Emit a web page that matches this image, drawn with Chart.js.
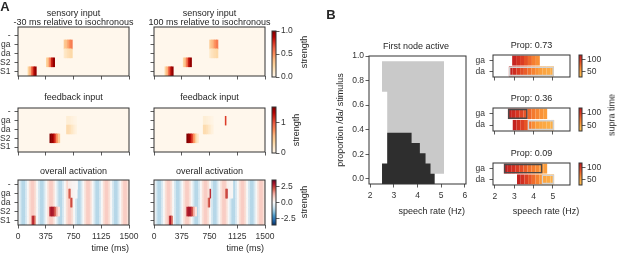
<!DOCTYPE html>
<html>
<head>
<meta charset="utf-8">
<script src="https://cdn.jsdelivr.net/npm/chart.js@4.4.1/dist/chart.umd.min.js"></script>
<style>
  body { margin: 0; width: 617px; height: 255px; position: relative; overflow: hidden; background: #fff;
         font-family: "Liberation Sans", Arial, sans-serif; color: #262626; }
  canvas { position: absolute; }
  .lbl { position: absolute; font-size: 9px; line-height: 1; white-space: nowrap; transform: translate(-50%, -50%); }
  .end { transform: translate(-100%, -50%); }
  .rot { transform: translate(-50%, -50%) rotate(-90deg); }
  .panel { font-weight: bold; font-size: 13px; }
</style>
</head>
<body>
<script>
// ---------- panel A data ----------
const rowNames = ['S1', 'S2', 'da', 'ga', '-'];
const timeTicks = [0, 375, 750, 1125, 1500];

// background oscillation of the overall activation, one value per 25 ms
const oscStepMs = 25;
const oscillation = [
  0.0, -0.6, -1.0, -1.0, -0.6, 0.0, 0.6, 0.9, 0.9, 0.6,
  0.0, -0.6, -1.0, -1.0, -0.6, 0.0, 0.6, 0.9, 0.9, 0.6,
  0.0, -0.6, -1.0, -1.0, -0.6, 0.0, 0.6, 0.9, 0.9, 0.6,
  0.0, -0.6, -1.0, -1.0, -0.6, 0.0, 0.6, 0.9, 0.9, 0.6,
  0.0, -0.6, -1.0, -1.0, -0.6, 0.0, 0.6, 0.9, 0.9, 0.6,
  0.0, -0.6, -1.0, -1.0, -0.6, 0.0, 0.6, 0.9, 0.9, 0.6
];

// [row, onset (ms), cell width (ms), strength per cell]
const sensoryEarly = [
  ['S1', 135, 22.5, [0.25, 0.4, 0.6, 0.8, 0.95]],
  ['S2', 383, 22.5, [0.25, 0.4, 0.6, 0.8, 0.95]],
  ['ga', 622, 22.5, [0.3, 0.35, 0.42, 0.5, 0.55]],
  ['da', 622, 22.5, [0.12, 0.15, 0.18, 0.2, 0.22]]
];
const sensoryLate = [
  ['S1', 148, 22.5, [0.25, 0.4, 0.6, 0.8, 0.95]],
  ['S2', 395, 22.5, [0.25, 0.4, 0.6, 0.8, 0.95]],
  ['ga', 752, 22.5, [0.3, 0.35, 0.42, 0.5, 0.55]],
  ['da', 752, 22.5, [0.12, 0.15, 0.18, 0.2, 0.22]]
];
const feedbackEarly = [
  ['S2', 430, 22.5, [1.5, 1.45, 1.3, 1.05, 0.75, 0.45]],
  ['ga', 655, 22.5, [0.12, 0.12, 0.1, 0.08, 0.06, 0.04]],
  ['da', 655, 22.5, [0.3, 0.3, 0.26, 0.2, 0.14, 0.08]]
];
const feedbackLate = [
  ['S2', 442, 22.5, [1.5, 1.45, 1.3, 1.05, 0.75, 0.45, 0.2]],
  ['ga', 665, 22.5, [0.12, 0.12, 0.1, 0.08, 0.06, 0.04]],
  ['da', 665, 22.5, [0.3, 0.3, 0.26, 0.2, 0.14, 0.08]],
  ['ga', 962, 12, [1.1]]
];
const activationEarly = [
  ['-', 680, 25, [0.3, 0.2, 0.1, 0.1, 0.0]],
  ['ga', 700, 25, [0.3, 0.2, 0.1, 0.0]],
  ['S1', 188, 15, [2.4, 2.8, 2.0]],
  ['S2', 428, 22.5, [2.7, 2.9, 2.7, 2.0, 1.3, 0.5]],
  ['ga', 683, 12, [1.8, 2.2]],
  ['da', 707, 12, [1.9, 2.3]]
];
const activationLate = [
  ['-', 990, 25, [0.2, 0.1, 0.05]],
  ['ga', 990, 25, [0.2, 0.1, 0.05]],
  ['S1', 205, 15, [2.5, 2.8, 2.0]],
  ['S2', 442, 22.5, [2.7, 2.9, 2.8, 2.2, 1.4, 0.5]],
  ['da', 730, 12, [1.9, 2.3]],
  ['ga', 755, 12, [2.6]],
  ['ga', 965, 14, [2.0, 2.4]]
];

const sensoryRange = [0, 1];
const sensoryTicks = [0, 0.5, 1.0];
const feedbackRange = [0, 1.52];
const feedbackTicks = [0, 1];
const activationRange = [-3.5, 3.5];
const activationTicks = [-2.5, 0, 2.5];

// ---------- panel B data ----------
const rateTicks = [2, 3, 4, 5, 6];
const propTicks = [0, 0.2, 0.4, 0.6, 0.8, 1.0];
// black area: top edge per speech-rate step (step starts at darkRate[i], ends at darkEnd)
const darkRate = [2.5, 2.72, 3.75, 4.1, 4.34, 4.55];
const darkTop = [0.125, 0.375, 0.292, 0.208, 0.125, 0.042];
const darkEnd = 4.73;
// grey area: bottom edge per speech-rate step, top edge at lightTop
const lightRate = [2.5, 2.72, 4.73];
const lightBottom = [0.708, -0.042, 0.042];
const lightEnd = 5.12;
const lightTop = 0.958;
const propMin = -0.042;

const propValues = [0.73, 0.36, 0.09];
const syllables = ['da', 'ga'];   // bottom to top
const supraRateTicks = [2, 3, 4, 5];
// [from Hz, to Hz, supra time per cell]
const supraGa = [
  [2.89, 4.32, [116, 108, 100, 90, 80, 70, 62]],
  [2.67, 4.70, [118, 112, 104, 96, 88, 80, 72, 66, 60, 55]],
  [2.46, 4.70, [120, 114, 108, 100, 92, 84, 76, 70, 64, 58, 54]]
];
const supraDa = [
  [2.72, 5.05, [118, 110, 100, 92, 84, 76, 68, 60, 54, 50, 48, 46]],
  [2.92, 5.06, [118, 108, 98, 88, 74, 62, 54, 50, 48, 46, 45]],
  [3.14, 5.06, [118, 108, 98, 88, 78, 68, 58, 50, 47, 45]]
];
const darkSpanGa = [null, [2.67, 3.69], [2.46, 4.46]];
const lightSpanDa = [[2.72, 5.05], [3.69, 5.06], [4.41, 5.06]];
const supraRange = [27, 121];
const supraTicks = [50, 100];

// ---------- helpers ----------
Chart.defaults.font.family = '"Liberation Sans", Arial, sans-serif';
const ink = '#333';
const tickFont = { size: 8.5 };
const tickGrid = { display: true, offset: false, drawOnChartArea: false, drawTicks: true, tickLength: 3.5, color: ink, lineWidth: 0.8 };
const M = 16;   // free margin round every chart area, so tick labels never squeeze it

function hexToRgb(h) { const n = parseInt(h.slice(1), 16); return [n >> 16 & 255, n >> 8 & 255, n & 255]; }
function makeCmap(stops, lo, hi) {
  const rgb = stops.map(hexToRgb);
  return v => {
    let t = (v - lo) / (hi - lo);
    t = Math.max(0, Math.min(1, t));
    const n = rgb.length - 1, i = Math.min(n - 1, Math.floor(t * n)), f = t * n - i;
    const c = rgb[i].map((a, k) => Math.round(a + (rgb[i + 1][k] - a) * f));
    return `rgb(${c[0]},${c[1]},${c[2]})`;
  };
}
const orRd = ['#fff7ec', '#fee8c8', '#fdd49e', '#fdbb84', '#fc8d59', '#ef6548', '#d7301f', '#b30000', '#7f0000'];
const rdBuR = ['#053061', '#2166ac', '#4393c3', '#92c5de', '#d1e5f0', '#f7f7f7', '#fbdcd2', '#f4a9a0', '#d6604d', '#b2182b', '#67001f'];
const supraStops = ['#fdb84d', '#fb9a3a', '#f47a2e', '#e65527', '#d73422', '#c01f1f'];

const sensoryCmap = makeCmap(orRd, sensoryRange[0], sensoryRange[1]);
const feedbackCmap = makeCmap(orRd, feedbackRange[0], feedbackRange[1]);
const activationCmap = makeCmap(rdBuR, activationRange[0], activationRange[1]);
const supraCmap = makeCmap(supraStops, 40, 120);

const framePlugin = {
  id: 'frame',
  beforeDatasetsDraw(chart, args, opts) {
    if (!opts.fill) return;
    const a = chart.chartArea, c = chart.ctx;
    c.save(); c.fillStyle = opts.fill; c.fillRect(a.left, a.top, a.width, a.height); c.restore();
  },
  afterDatasetsDraw(chart, args, opts) {
    const a = chart.chartArea, c = chart.ctx;
    c.save(); c.strokeStyle = opts.color || ink; c.lineWidth = 1;
    c.strokeRect(a.left, a.top, a.width, a.height); c.restore();
  }
};

// canvas holding a chart whose area is `plot`; ax = room taken by axes on each side
function chartCanvas(plot, ax) {
  const c = document.createElement('canvas');
  const w = 2 * M + ax.left + (plot.r - plot.l) + ax.right;
  const h = 2 * M + ax.top + (plot.b - plot.t) + ax.bottom;
  c.width = w; c.height = h;
  c.style.left = (plot.l - ax.left - M) + 'px'; c.style.top = (plot.t - ax.top - M) + 'px';
  c.style.width = w + 'px'; c.style.height = h + 'px';
  document.body.appendChild(c);
  return c;
}
const pad = { left: M, top: M, right: M, bottom: M };
function setTicks(values) { return s => { s.ticks = values.map(value => ({ value })); }; }

function label(text, x, y, cls) {
  const d = document.createElement('div');
  d.className = 'lbl ' + (cls || '');
  d.textContent = text;
  d.style.left = x + 'px'; d.style.top = y + 'px';
  document.body.appendChild(d);
}

function heatmap(plot, ax, cfg) {
  // one dataset: background cells first, input cells drawn over them
  const cells = [];
  if (cfg.background) rowNames.forEach((r, ri) => cfg.background.forEach((v, i) =>
    cells.push({ x: [i * oscStepMs, (i + 1) * oscStepMs], y: ri, v })));
  cfg.blocks.forEach(([row, onset, width, vals]) => vals.forEach((v, k) =>
    cells.push({ x: [onset + k * width, onset + (k + 1) * width], y: rowNames.indexOf(row), v })));
  new Chart(chartCanvas(plot, ax), {
    type: 'bar',
    data: { datasets: [{
      data: cells, backgroundColor: c => (c.raw ? cfg.cmap(c.raw.v) : 'transparent'),
      barPercentage: 1, categoryPercentage: 1, borderWidth: 0
    }] },
    options: {
      indexAxis: 'y', responsive: false, animation: false, events: [],
      layout: { padding: pad },
      plugins: { legend: { display: false }, tooltip: { enabled: false }, frame: { fill: cfg.cmap(cfg.zero) } },
      scales: {
        x: {
          type: 'linear', min: 0, max: 1500, offset: false, afterBuildTicks: setTicks(timeTicks),
          afterFit: s => { s.height = ax.bottom; },
          ticks: { display: cfg.xLabels, font: tickFont, color: ink, padding: 3, maxRotation: 0, autoSkip: false,
                   callback: v => String(v) },
          grid: tickGrid, border: { display: false }
        },
        y: {
          type: 'linear', min: cfg.yLim[0], max: cfg.yLim[1], offset: false, afterBuildTicks: setTicks([0, 1, 2, 3, 4]),
          afterFit: s => { s.width = ax.left; },
          ticks: { display: cfg.yLabels, font: tickFont, color: ink, padding: 4, autoSkip: false,
                   callback: v => rowNames[v] },
          grid: tickGrid, border: { display: false }
        }
      }
    },
    plugins: [framePlugin]
  });
}

function colorbar(plot, range, ticks, cmap, fmt) {
  const ax = { left: 0, right: 24, top: 0, bottom: 0 };
  new Chart(chartCanvas(plot, ax), {
    type: 'bar',
    data: {
      labels: [''],
      datasets: [{
        data: [range], barPercentage: 1, categoryPercentage: 1, borderWidth: 0,
        backgroundColor: c => {
          const a = c.chart.chartArea;
          if (!a) return 'transparent';
          const g = c.chart.ctx.createLinearGradient(0, a.bottom, 0, a.top);
          for (let k = 0; k <= 24; k++) g.addColorStop(k / 24, cmap(range[0] + (range[1] - range[0]) * k / 24));
          return g;
        }
      }]
    },
    options: {
      responsive: false, animation: false, events: [],
      layout: { padding: pad },
      plugins: { legend: { display: false }, tooltip: { enabled: false }, frame: {} },
      scales: {
        x: { display: false },
        y: {
          position: 'right', min: range[0], max: range[1], afterBuildTicks: setTicks(ticks),
          afterFit: s => { s.width = ax.right; },
          ticks: { font: tickFont, color: ink, padding: 1.5, autoSkip: false, callback: fmt },
          grid: tickGrid, border: { display: false }
        }
      }
    },
    plugins: [framePlugin]
  });
}

// ---------- panel A ----------
const colL = { l: 18, r: 129 }, colR = { l: 154, r: 265 };
const rowsA = [{ t: 27, b: 76 }, { t: 108, b: 152 }, { t: 180, b: 225 }];
const yLims = [[-0.53, 4.95], [-0.55, 4.44], [-0.5, 4.52]];
const panelsA = [
  [sensoryEarly, sensoryLate, sensoryCmap, 0, null],
  [feedbackEarly, feedbackLate, feedbackCmap, 0, null],
  [activationEarly, activationLate, activationCmap, 0, oscillation]
];
panelsA.forEach(([early, late, cmap, zero, bg], r) => {
  const last = r === 2;
  const xb = last ? 16 : 5;
  heatmap({ ...colL, ...rowsA[r] }, { left: 18, right: 0, top: 0, bottom: xb },
    { blocks: early, cmap, zero, background: bg, yLim: yLims[r], xLabels: last, yLabels: true });
  heatmap({ ...colR, ...rowsA[r] }, { left: 6, right: 0, top: 0, bottom: xb },
    { blocks: late, cmap, zero, background: bg, yLim: yLims[r], xLabels: last, yLabels: false });
});
colorbar({ l: 272, r: 276, t: 31, b: 77 }, sensoryRange, sensoryTicks, sensoryCmap, v => v.toFixed(1));
colorbar({ l: 272, r: 276, t: 107, b: 153 }, feedbackRange, feedbackTicks, feedbackCmap, v => String(v));
colorbar({ l: 272, r: 276, t: 180, b: 225 }, activationRange, activationTicks, activationCmap, v => v.toFixed(1));

// ---------- panel B, first node map ----------
// outline of a stepped area as explicit corner points
function stepCorners(rates, levels, end) {
  const out = [];
  rates.forEach((x, i) => {
    out.push({ x, y: levels[i] });
    out.push({ x: i + 1 < rates.length ? rates[i + 1] : end, y: levels[i] });
  });
  return out;
}
const mainPlot = { l: 369, r: 466, t: 56, b: 184 };
new Chart(chartCanvas(mainPlot, { left: 32, right: 0, top: 0, bottom: 18 }), {
  type: 'line',
  data: {
    datasets: [
      { data: stepCorners(darkRate, darkTop, darkEnd), fill: { value: propMin }, backgroundColor: '#2e2e2e',
        borderColor: 'transparent', borderWidth: 0, pointRadius: 0, tension: 0 },
      { data: stepCorners(lightRate, lightBottom, lightEnd), fill: { value: lightTop }, backgroundColor: '#c9c9c9',
        borderColor: 'transparent', borderWidth: 0, pointRadius: 0, tension: 0 }
    ]
  },
  options: {
    responsive: false, animation: false, events: [],
    layout: { padding: pad },
    plugins: { legend: { display: false }, tooltip: { enabled: false }, frame: {} },
    scales: {
      x: {
        type: 'linear', min: 1.95, max: 6.05, afterBuildTicks: setTicks(rateTicks),
        afterFit: s => { s.height = 18; },
        ticks: { font: tickFont, color: ink, padding: 3.5, maxRotation: 0, autoSkip: false },
        grid: tickGrid, border: { display: false }
      },
      y: {
        type: 'linear', min: propMin, max: 1.0, afterBuildTicks: setTicks(propTicks),
        afterFit: s => { s.width = 32; },
        ticks: { font: tickFont, color: ink, padding: 1.5, autoSkip: false, callback: v => v.toFixed(1) },
        grid: tickGrid, border: { display: false }
      }
    }
  },
  plugins: [framePlugin]
});

// ---------- panel B, supra time bars ----------
const rowsB = [{ t: 55, b: 77 }, { t: 108, b: 131 }, { t: 163, b: 185 }];
rowsB.forEach((rb, i) => {
  // one dataset: coloured cells, then the first-node outlines on top
  const items = [];
  const gaRow = syllables.indexOf('ga'), daRow = syllables.indexOf('da');
  [[gaRow, supraGa[i]], [daRow, supraDa[i]]].forEach(([row, [a, b, vals]]) => {
    const w = (b - a) / vals.length;
    vals.forEach((v, k) => items.push({ y: row, x: [a + k * w, a + (k + 1) * w], v }));
  });
  if (darkSpanGa[i]) items.push({ y: gaRow, x: darkSpanGa[i], edge: '#4a4a4a' });
  if (lightSpanDa[i]) items.push({ y: daRow, x: lightSpanDa[i], edge: '#d2d2d2' });
  const last = i === 2;
  const xb = last ? 16 : 5;
  new Chart(chartCanvas({ l: 493, r: 570, ...rb }, { left: 22, right: 0, top: 0, bottom: xb }), {
    type: 'bar',
    data: {
      datasets: [{
        data: items, barPercentage: 0.92, categoryPercentage: 1, borderSkipped: false,
        backgroundColor: c => (!c.raw || c.raw.edge ? 'transparent' : supraCmap(c.raw.v)),
        borderColor: c => (c.raw && c.raw.edge ? c.raw.edge : 'transparent'),
        borderWidth: c => (c.raw && c.raw.edge ? 1.5 : 0)
      }]
    },
    options: {
      indexAxis: 'y', responsive: false, animation: false, events: [],
      layout: { padding: pad },
      plugins: { legend: { display: false }, tooltip: { enabled: false }, frame: {} },
      scales: {
        x: {
          type: 'linear', min: 1.9, max: 5.88, offset: false, afterBuildTicks: setTicks(supraRateTicks),
          afterFit: s => { s.height = xb; },
          ticks: { display: last, font: tickFont, color: ink, padding: 3.5, maxRotation: 0, autoSkip: false },
          grid: tickGrid, border: { display: false }
        },
        y: {
          type: 'linear', min: -0.52, max: 1.52, offset: false, afterBuildTicks: setTicks([0, 1]),
          afterFit: s => { s.width = 22; },
          ticks: { font: tickFont, color: ink, padding: 4.5, autoSkip: false, callback: v => syllables[v] },
          grid: tickGrid, border: { display: false }
        }
      }
    },
    plugins: [framePlugin]
  });
  colorbar({ l: 579, r: 582, ...rb }, supraRange, supraTicks, supraCmap, v => String(v));
  label('Prop: ' + propValues[i].toFixed(2), 531.5, rb.t - 10);
});

// ---------- texts ----------
label('A', 5, 6, 'panel');
label('B', 331, 13.5, 'panel');
[[73.5, '-30 ms relative to isochronous'], [209.5, '100 ms relative to isochronous']].forEach(([x, sub]) => {
  label('sensory input', x, 12.5);
  label(sub, x, 22);
  label('feedback input', x, 97);
  label('overall activation', x, 170.5);
});
label('time (ms)', 129, 248, 'end');
label('time (ms)', 264, 248, 'end');
label('strength', 304, 52, 'rot');
label('strength', 296, 130, 'rot');
label('strength', 304, 202, 'rot');
label('First node active', 416, 45.5);
label('proportion /da/ stimulus', 340, 120, 'rot');
label('speech rate (Hz)', 465, 210.5, 'end');
label('speech rate (Hz)', 546, 210.5);
label('supra time', 612, 115, 'rot');
</script>
</body>
</html>
